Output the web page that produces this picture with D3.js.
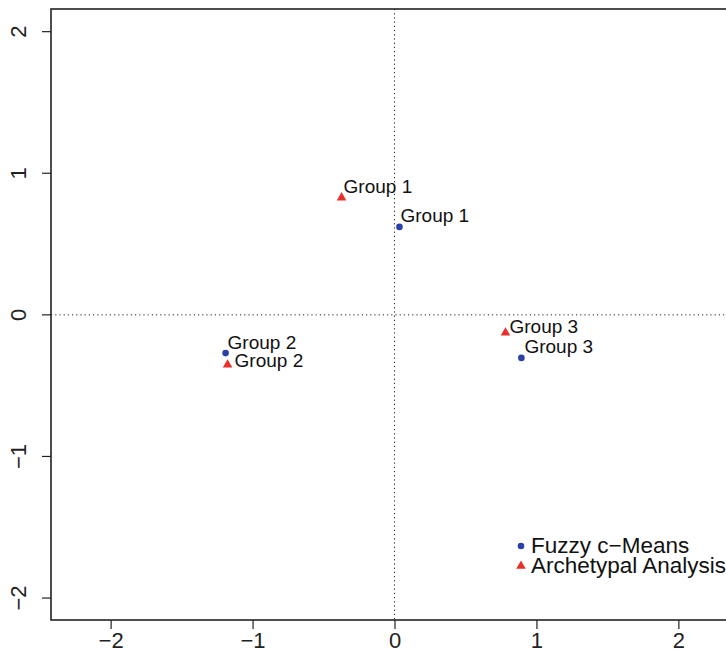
<!DOCTYPE html>
<html>
<head>
<meta charset="utf-8">
<script src="https://cdn.jsdelivr.net/npm/d3@7"></script>
<style>
body { margin: 0; background: #fff; }
svg { display: block; font-family: "Liberation Sans", Arial, sans-serif; }
</style>
</head>
<body>
<svg width="726" height="657"></svg>
<script>
const fcmX = [0.035, -1.19, 0.894]
const fcmY = [0.621, -0.27, -0.304]
const aaX = [-0.373, -1.176, 0.782]
const aaY = [0.835, -0.346, -0.12]
const groupLabels = ["Group 1", "Group 2", "Group 3"]
const xTicks = [-2, -1, 0, 1, 2]
const yTicks = [-2, -1, 0, 1, 2]
const legendLabels = ["Fuzzy c\u2212Means", "Archetypal Analysis"]

// label nudges in pixels (placement only)
const fcmNudge = [[1, -5], [2, -4], [3, -5]]
const aaNudge = [[2, -4], [7, 3], [4, 1]]

const svg = d3.select("svg")
const x = d3.scaleLinear().domain([-2.42, 2.42]).range([51, 738])
const y = d3.scaleLinear().domain([-2.155, 2.16]).range([620, 9])
const blue = "#2b3fa6", red = "#e8302a"
const fmt = d => d < 0 ? "\u2212" + Math.abs(d) : String(d)

// axes
const xa = svg.append("g").attr("transform", "translate(0,620)")
	.call(d3.axisBottom(x).tickValues(xTicks).tickSize(9).tickPadding(3).tickFormat(fmt))
xa.select(".domain").remove()
const ya = svg.append("g").attr("transform", "translate(51,0)")
	.call(d3.axisLeft(y).tickValues(yTicks).tickSize(9).tickFormat(fmt))
ya.select(".domain").remove()
svg.selectAll(".tick line").attr("stroke", "#222").attr("stroke-width", 1.2)
xa.selectAll("text").attr("font-size", 22).attr("fill", "#222").attr("font-family", "Liberation Sans, Arial")
ya.selectAll("text").attr("font-size", 22).attr("fill", "#222").attr("font-family", "Liberation Sans, Arial")
	.attr("text-anchor", "middle")
	.attr("transform", d => `translate(-33,${y(d)}) rotate(-90)`)
	.attr("x", 0).attr("dy", "0.35em").attr("y", 0)
ya.selectAll(".tick").attr("transform", null)
ya.selectAll(".tick line").attr("transform", d => `translate(0,${y(d)})`)

// box
svg.append("rect").attr("x", 51).attr("y", 9).attr("width", 800).attr("height", 611)
	.attr("fill", "none").attr("stroke", "#222").attr("stroke-width", 1.6)

// reference lines
svg.append("line").attr("x1", x(0)).attr("x2", x(0)).attr("y1", 9).attr("y2", 620)
	.attr("stroke", "#222").attr("stroke-dasharray", "1.2 3")
svg.append("line").attr("x1", 51).attr("x2", 726).attr("y1", y(0)).attr("y2", y(0))
	.attr("stroke", "#222").attr("stroke-dasharray", "1.2 3")

const tri = d3.symbol().type(d3.symbolTriangle).size(40)

// points
svg.selectAll(".fcm").data(fcmX).enter().append("circle")
	.attr("cx", d => x(d)).attr("cy", (d, i) => y(fcmY[i])).attr("r", 3.3).attr("fill", blue)
svg.selectAll(".aa").data(aaX).enter().append("path")
	.attr("d", tri).attr("fill", red)
	.attr("transform", (d, i) => `translate(${x(d)},${y(aaY[i]) + 1})`)

// labels
svg.selectAll(".lf").data(fcmX).enter().append("text")
	.attr("x", (d, i) => x(d) + fcmNudge[i][0]).attr("y", (d, i) => y(fcmY[i]) + fcmNudge[i][1])
	.attr("font-size", 19).attr("fill", "#111").text((d, i) => groupLabels[i])
svg.selectAll(".la").data(aaX).enter().append("text")
	.attr("x", (d, i) => x(d) + aaNudge[i][0]).attr("y", (d, i) => y(aaY[i]) + aaNudge[i][1])
	.attr("font-size", 19).attr("fill", "#111").text((d, i) => groupLabels[i])

// legend
const lg = svg.append("g")
lg.append("circle").attr("cx", 521).attr("cy", 546).attr("r", 3.3).attr("fill", blue)
lg.append("path").attr("d", tri).attr("fill", red).attr("transform", "translate(521,566)")
lg.selectAll("text").data(legendLabels).enter().append("text")
	.attr("x", 531).attr("y", (d, i) => 553 + i * 20)
	.attr("font-size", 22.5).attr("fill", "#111").text(d => d)
</script>
</body>
</html>
